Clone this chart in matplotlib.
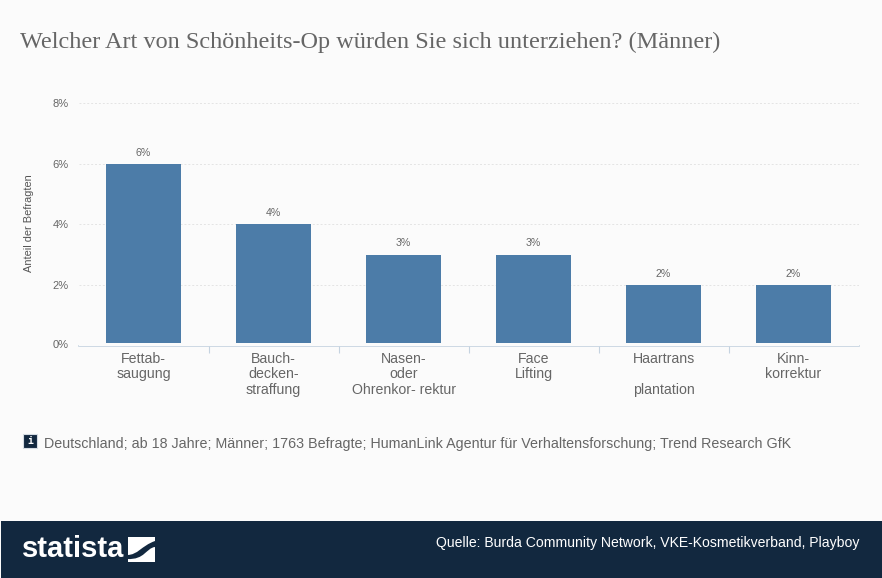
import numpy as np
import matplotlib
matplotlib.use("Agg")
import matplotlib.pyplot as plt
from matplotlib.patches import Rectangle, Polygon, PathPatch
from matplotlib.path import Path
from matplotlib.transforms import ScaledTranslation

categories = ["Fettab-\nsaugung", "Bauch-\ndecken-\nstraffung", "Nasen-\noder\nOhrenkor- rektur",
              "Face\nLifting", "Haartrans\n\nplantation", "Kinn-\nkorrektur"]
values = [6, 4, 3, 3, 2, 2]
y_ticks = [0, 2, 4, 6, 8]

W, H = 882, 578
BG = "#fbfbfb"
NAVY = "#12283f"
GREY = "#666666"
plt.rcParams["font.family"] = ["Liberation Sans", "DejaVu Sans"]

fig = plt.figure(figsize=(W / 100, H / 100), dpi=100, facecolor=BG)

# axes in pixel coordinates of the reference
left, right, top, bottom = 78.5, 858.5, 103, 345.5
ax = fig.add_axes([left / W, 1 - bottom / H, (right - left) / W, (bottom - top) / H], facecolor=BG)

x = np.arange(len(values))
ax.bar(x, values, width=75 / 130, color="#4c7ca8", zorder=2)
ax.set_xlim(-0.5, len(values) - 0.5)
ax.set_ylim(0, 8)

# small gap between bars and axis line
ax.axhspan(0, 0.07, color=BG, lw=0, zorder=3)

for i, v in zip(x, values):
    ax.text(i, v + 0.2, f"{v}%", ha="center", va="bottom", fontsize=7.6, color=GREY)

ax.set_yticks(y_ticks)
ax.set_yticklabels([f"{t}%" for t in y_ticks], fontsize=8, color=GREY)
ax.yaxis.set_tick_params(length=0, pad=7)
# the 0% label sits a little higher than its tick
zero_label = ax.get_yticklabels()[0]
zero_label.set_transform(zero_label.get_transform() + ScaledTranslation(0, 2 / 100, fig.dpi_scale_trans))
ax.set_xticks(x)
ax.set_xticklabels(categories, fontsize=10.2, color=GREY, linespacing=1.13)
ax.set_xticks(np.arange(0.5, len(values) - 1), minor=True)
ax.tick_params(axis="x", which="major", length=0, pad=4.5)
ax.tick_params(axis="x", which="minor", length=5, width=0.8, color="#c5d3e0", direction="out")
ax.grid(axis="y", color="#e4e4e4", lw=0.7, ls=(0, (2, 2)), zorder=0)
ax.set_axisbelow(True)
for s in ["top", "left", "right"]:
    ax.spines[s].set_visible(False)
ax.spines["bottom"].set_color("#c5d3e0")
ax.spines["bottom"].set_linewidth(1.2)

fig.text(29 / W, 1 - 223.5 / H, "Anteil der Befragten", rotation=90, ha="center", va="center",
         fontsize=7.9, color="#555555")

fig.text(20 / W, 1 - 42.5 / H, "Welcher Art von Schönheits-Op würden Sie sich unterziehen? (Männer)",
         family=["Liberation Serif"], fontsize=17.5, color=GREY, ha="left", va="center")

# info box + note
fig.add_artist(Rectangle((23 / W, 1 - 448 / H), 14 / W, 14 / H, transform=fig.transFigure,
                         facecolor=NAVY, edgecolor="#d5dce3", lw=0.8))
fig.text(30 / W, 1 - 440.5 / H, "i", family=["DejaVu Sans Mono"], fontsize=7, fontweight="bold",
         color="white", ha="center", va="center")
fig.text(44 / W, 1 - 444 / H,
         "Deutschland; ab 18 Jahre; Männer; 1763 Befragte; HumanLink Agentur für Verhaltensforschung; Trend Research GfK",
         fontsize=10.26, color=GREY, ha="left", va="center")

# footer band
fig.add_artist(Rectangle((1 / W, 0), (W - 1) / W, (H - 521) / H, transform=fig.transFigure,
                         facecolor=NAVY, edgecolor="none"))
fig.text(22 / W, 1 - 549 / H, "statista", fontsize=21, fontweight="bold", color="white",
         ha="left", va="center", stretch="condensed")

# logo square with swoosh, in pixel coordinates
def px(points):
    return [(a / W, 1 - b / H) for a, b in points]

fig.add_artist(Polygon(px([(128, 537), (155, 537), (155, 562), (128, 562)]), closed=True,
                       transform=fig.transFigure, facecolor="white", edgecolor="none"))
swoosh = Path(px([(127, 555), (138, 555), (141, 546), (155, 541),
                  (155, 547), (146, 548), (145, 560), (127, 559), (127, 555)]),
              [Path.MOVETO, Path.CURVE4, Path.CURVE4, Path.CURVE4,
               Path.LINETO, Path.CURVE4, Path.CURVE4, Path.CURVE4, Path.CLOSEPOLY])
fig.add_artist(PathPatch(swoosh, transform=fig.transFigure, facecolor=NAVY, edgecolor="none"))

fig.text(859 / W, 1 - 543 / H, "Quelle: Burda Community Network, VKE-Kosmetikverband, Playboy",
         fontsize=10.07, color="white", ha="right", va="center")

fig.savefig("out.png", dpi=100, facecolor=fig.get_facecolor())
